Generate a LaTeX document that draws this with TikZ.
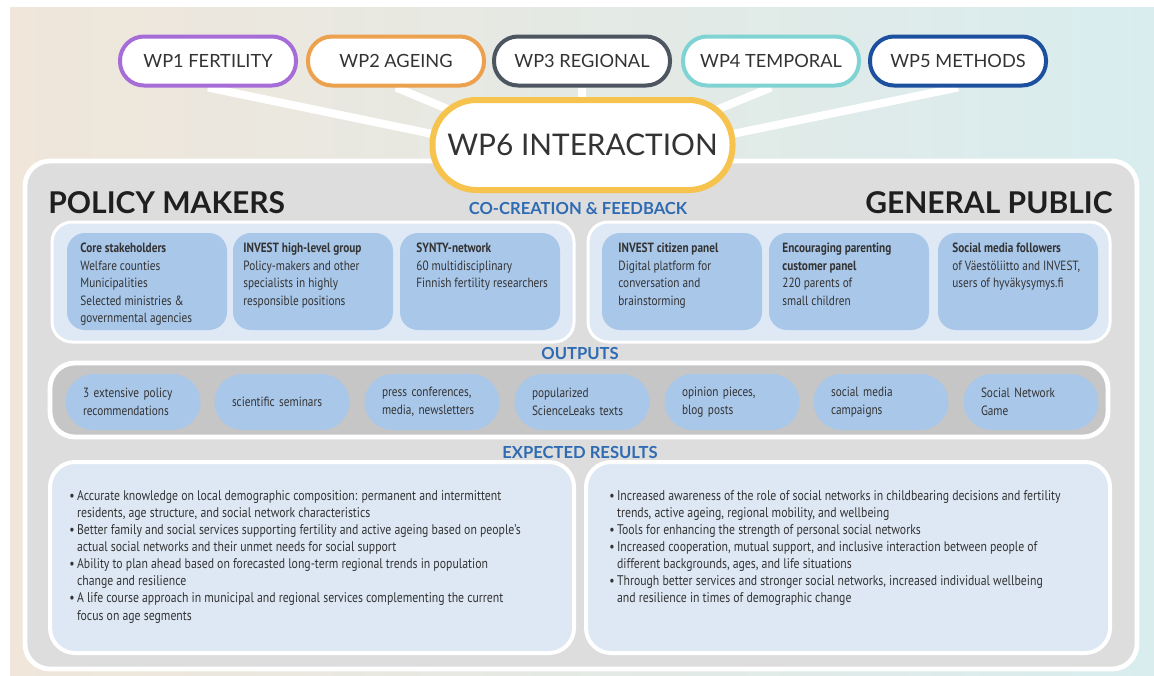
\documentclass[tikz,border=0pt]{standalone}
\usepackage{fontspec}
\setmainfont{PT Sans}[FakeStretch=0.84]
\newfontfamily\headfont{Lato}
\usepackage{xcolor}
\usepackage{tikz}
\usetikzlibrary{backgrounds}
\usetikzlibrary{positioning}

\definecolor{bgleft}{HTML}{F0E6DA}
\definecolor{bgright}{HTML}{D9EDEF}
\definecolor{bodytext}{HTML}{333333}
\definecolor{panelgray}{HTML}{DDDDDD}
\definecolor{stripgray}{HTML}{C6C6C6}
\definecolor{grouplight}{HTML}{DFE9F5}
\definecolor{memberblue}{HTML}{A9C7E9}
\definecolor{resultblue}{HTML}{DDE8F4}
\definecolor{titleblue}{HTML}{2E6BB3}
\definecolor{wpone}{HTML}{A66CD8}
\definecolor{wptwo}{HTML}{ECA14F}
\definecolor{wpthree}{HTML}{4C5560}
\definecolor{wpfour}{HTML}{80D3D3}
\definecolor{wpfive}{HTML}{1D4F9F}
\definecolor{wpsix}{HTML}{F6C34F}

\newcommand{\resbul}{\textbullet\,}
\newcommand{\resind}{\hphantom{\textbullet\,}}

\begin{document}
\begin{tikzpicture}[x=0.5pt, y=-0.5pt, font=\fontsize{6.7}{8.75}\selectfont, text=bodytext,
	wp node/.style={rectangle, rounded corners=12pt, draw, line width=2pt, fill=white, minimum width=88pt, minimum height=24.5pt, font=\headfont\fontsize{9.1}{10}\selectfont},
	hub node/.style={rectangle, rounded corners=22pt, draw=wpsix, line width=3pt, fill=white, minimum width=150pt, minimum height=45pt, font=\headfont\fontsize{14.9}{17}\selectfont},
	panel/.style={rectangle, rounded corners=12.5pt, draw=white, line width=2.4pt, fill=panelgray},
	group/.style={rectangle, rounded corners=10pt, draw=white, line width=1.5pt, fill=grouplight, minimum width=261pt, minimum height=60pt},
	member/.style={rectangle, rounded corners=9pt, fill=memberblue, minimum width=80pt, minimum height=48.5pt},
	member text/.style={anchor=north west, align=left, inner sep=0pt},
	output pill/.style={rectangle, rounded corners=14pt, fill=memberblue, minimum width=67.5pt, minimum height=28pt, text width=50pt, inner xsep=8.5pt, align=left},
	result box/.style={rectangle, rounded corners=12.5pt, draw=white, line width=2pt, fill=resultblue, minimum width=262pt, minimum height=95.5pt},
	result text/.style={anchor=north west, align=left, inner sep=0pt, font=\fontsize{7}{8.55}\selectfont},
	side title/.style={inner sep=0pt, font=\headfont\bfseries\fontsize{15}{16}\selectfont, text=black!88},
	section title/.style={font=\headfont\bfseries\fontsize{8.3}{9}\selectfont, text=titleblue},
	link/.style={draw=white, line width=4pt},
]
\useasboundingbox (0,0) rectangle (1154,675);
\node [wp node, draw=wpone]   at (208,61) (WP1) {WP1 FERTILITY};
\node [wp node, draw=wptwo]   at (396,61) (WP2) {WP2 AGEING};
\node [wp node, draw=wpthree] at (582,61) (WP3) {WP3 REGIONAL};
\node [wp node, draw=wpfour]  at (771,61) (WP4) {WP4 TEMPORAL};
\node [wp node, draw=wpfive]  at (958,61) (WP5) {WP5 METHODS};
\coordinate (hub) at (582,165);
\begin{scope}[on background layer]
\fill [left color=bgleft, right color=bgright] (10,7) rectangle (1154,675);
\draw [link] (WP1.south) -- (hub);
\draw [link] (WP2.south) -- (hub);
\draw [link] (WP3.south) -- (hub);
\draw [link] (WP4.south) -- (hub);
\draw [link] (WP5.south) -- (hub);
\end{scope}
%
\node [panel, minimum width=556pt, minimum height=254pt] at (581,415) (panel) {};
\node [hub node] at (582.5,145) (WP6) {WP6 INTERACTION};
\node [side title, anchor=west] at (48,203) (policy) {POLICY MAKERS};
\node [side title, anchor=east] at (1113,203) (public) {GENERAL PUBLIC};
\node [section title] at (578,208) (cocreation) {CO-CREATION \& FEEDBACK};
%
\node [group] at (313,282) (policyGroup) {};
\node [group] at (849,282) (publicGroup) {};
\node [member] at (147,281.5) (core) {};
\node [member] at (313,281.5) (highLevel) {};
\node [member] at (480,281.5) (synty) {};
\node [member] at (682,281.5) (citizen) {};
\node [member] at (849,281.5) (parenting) {};
\node [member] at (1018,281.5) (social) {};
\node [member text] at (80,243) (coreText) {\textbf{Core stakeholders}\\Welfare counties\\Municipalities\\Selected ministries \&\\governmental agencies};
\node [member text] at (243,243) (highLevelText) {\textbf{INVEST high-level group}\\Policy-makers and other\\specialists in highly\\responsible positions};
\node [member text] at (416,243) (syntyText) {\textbf{SYNTY-network}\\60 multidisciplinary\\Finnish fertility researchers};
\node [member text] at (618,243) (citizenText) {\textbf{INVEST citizen panel}\\Digital platform for\\conversation and\\brainstorming};
\node [member text] at (782,243) (parentingText) {\textbf{Encouraging parenting}\\\textbf{customer panel}\\220 parents of\\small children};
\node [member text] at (952,243) (socialText) {\textbf{Social media followers}\\of Väestöliitto and INVEST,\\users of hyväkysymys.fi};
%
\node [section title] at (580,353) (outputs) {OUTPUTS};
\node [panel, fill=stripgray, minimum width=529pt, minimum height=37pt] at (579,400) (outputStrip) {};
\node [output pill] at (133,402) (policyRec) {3 extensive policy\\recommendations};
\node [output pill] at (282,402) (seminars) {scientific seminars};
\node [output pill] at (432,402) (press) {press conferences,\\media, newsletters};
\node [output pill] at (582,402) (scienceLeaks) {popularized\\ScienceLeaks texts};
\node [output pill] at (732,402) (opinion) {opinion pieces,\\blog posts};
\node [output pill] at (881,402) (campaigns) {social media\\campaigns};
\node [output pill] at (1031,402) (game) {Social Network\\Game};
%
\node [section title] at (580,452) (expected) {EXPECTED RESULTS};
\node [result box] at (312,557.5) (policyResults) {};
\node [result box] at (848,557.5) (publicResults) {};
\node [result text] at (69,490) (policyResultsText) {\resbul Accurate knowledge on local demographic composition: permanent and intermittent\\\resind residents, age structure, and social network characteristics\\\resbul Better family and social services supporting fertility and active ageing based on people’s\\\resind actual social networks and their unmet needs for social support\\\resbul Ability to plan ahead based on forecasted long-term regional trends in population\\\resind change and resilience\\\resbul A life course approach in municipal and regional services complementing the current\\\resind focus on age segments};
\node [result text] at (609,490) (publicResultsText) {\resbul Increased awareness of the role of social networks in childbearing decisions and fertility\\\resind trends, active ageing, regional mobility, and wellbeing\\\resbul Tools for enhancing the strength of personal social networks\\\resbul Increased cooperation, mutual support, and inclusive interaction between people of\\\resind different backgrounds, ages, and life situations\\\resbul Through better services and stronger social networks, increased individual wellbeing\\\resind and resilience in times of demographic change};
\end{tikzpicture}
\end{document}
